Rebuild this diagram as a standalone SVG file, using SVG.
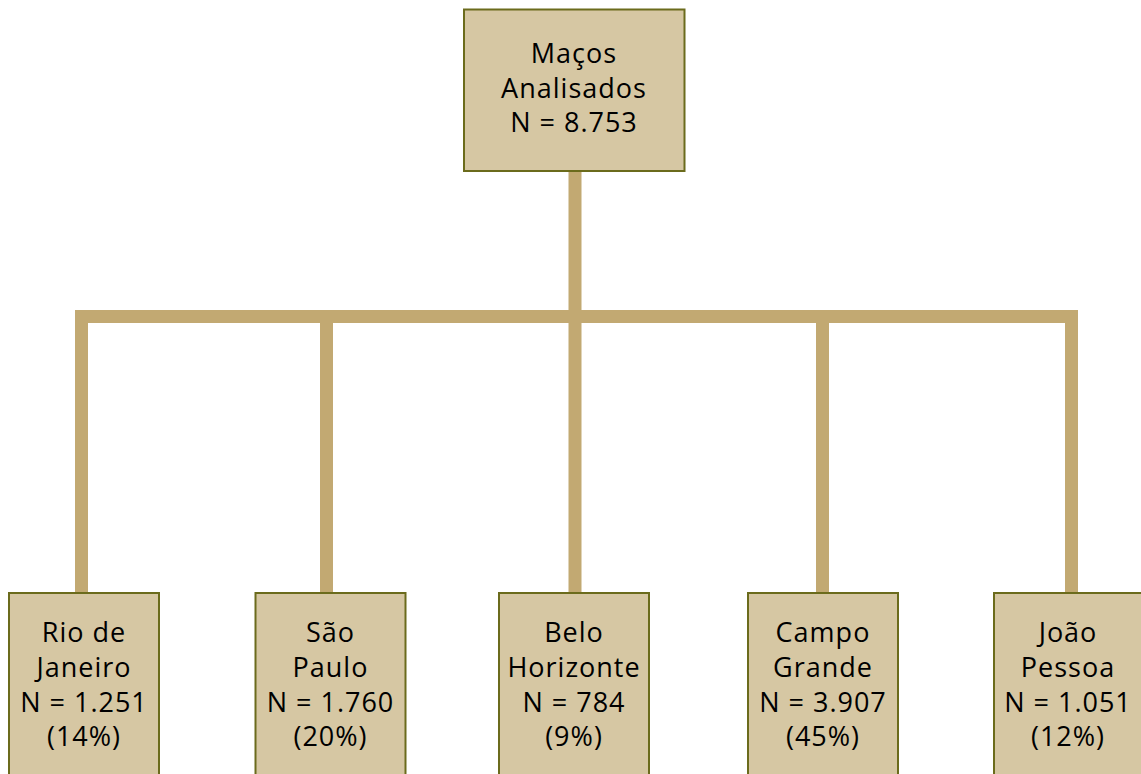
<svg xmlns="http://www.w3.org/2000/svg" width="1141" height="774" viewBox="0 0 1141 774">
<style>
.box{fill:#D6C7A3;stroke:#6B6B1C;stroke-width:2}
.conn{fill:none;stroke:#C2A972;stroke-width:13}
text{font-family:"Open Sans","Noto Sans","Liberation Sans",sans-serif;font-size:27px;font-weight:400;letter-spacing:1px;fill:#000;text-anchor:middle}
</style>
<rect width="1141" height="774" fill="#fff"/>
<g id="connectors">
<line class="conn" x1="575" y1="171" x2="575" y2="593"/>
<polyline class="conn" points="81.5,593 81.5,316.5 1071.5,316.5 1071.5,593"/>
<line class="conn" x1="326.5" y1="316.5" x2="326.5" y2="593"/>
<line class="conn" x1="822.5" y1="316.5" x2="822.5" y2="593"/>
</g>
<g id="root">
<rect class="box" x="464" y="9.5" width="220.5" height="161.5"/>
<text x="574" y="63">Maços</text>
<text x="574" y="98">Analisados</text>
<text x="574" y="132">N = 8.753</text>
</g>
<g id="rio">
<rect class="box" x="9" y="593" width="150" height="190"/>
<text x="84" y="642">Rio de</text>
<text x="84" y="677">Janeiro</text>
<text x="84" y="711.5">N = 1.251</text>
<text x="84" y="746">(14%)</text>
</g>
<g id="saopaulo">
<rect class="box" x="255.5" y="593" width="150" height="190"/>
<text x="330.5" y="642">São</text>
<text x="330.5" y="677">Paulo</text>
<text x="330.5" y="711.5">N = 1.760</text>
<text x="330.5" y="746">(20%)</text>
</g>
<g id="belohorizonte">
<rect class="box" x="499" y="593" width="150" height="190"/>
<text x="574" y="642">Belo</text>
<text x="574" y="677">Horizonte</text>
<text x="574" y="711.5">N = 784</text>
<text x="574" y="746">(9%)</text>
</g>
<g id="campogrande">
<rect class="box" x="748" y="593" width="150" height="190"/>
<text x="823" y="642">Campo</text>
<text x="823" y="677">Grande</text>
<text x="823" y="711.5">N = 3.907</text>
<text x="823" y="746">(45%)</text>
</g>
<g id="joaopessoa">
<rect class="box" x="994" y="593" width="150" height="190"/>
<text x="1068" y="642">João</text>
<text x="1068" y="677">Pessoa</text>
<text x="1068" y="711.5">N = 1.051</text>
<text x="1068" y="746">(12%)</text>
</g>
</svg>
